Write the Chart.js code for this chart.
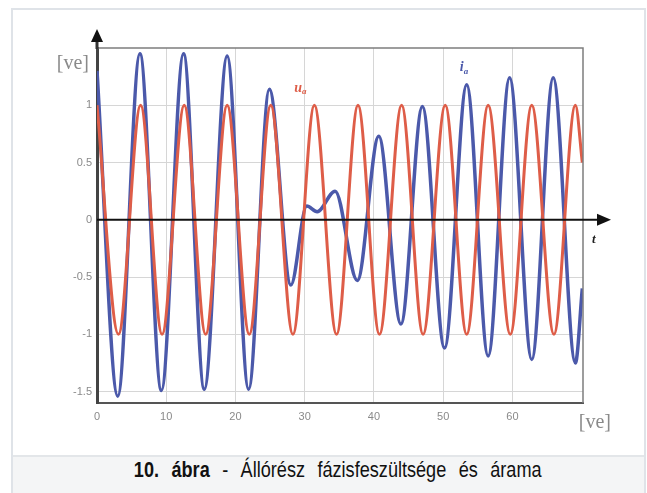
<!DOCTYPE html>
<html>
<head>
<meta charset="utf-8">
<script src="https://cdn.jsdelivr.net/npm/chart.js@4"></script>
<style>
  body { margin: 0; width: 647px; height: 493px; background: #fff; position: relative; overflow: hidden; }
  #frame { position: absolute; left: 11px; top: 8px; width: 635px; height: 490px; border: 2px solid #dfe3e8; box-sizing: border-box; }
  #chart { position: absolute; left: 0; top: 0; }
  #caption { position: absolute; left: 13px; top: 455px; width: 631px; height: 38px; background: #f4f5f6; border-top: 2px solid #e3e6e9; box-sizing: border-box;
             text-align: center; line-height: 36px; font: 22px "Liberation Sans Narrow", "Liberation Sans", sans-serif; color: #111; word-spacing: 9px; white-space: nowrap; }
  #caption span { display: inline-block; transform: scaleX(0.823); margin-left: 18px; }
</style>
</head>
<body>
<div id="frame"></div>
<canvas id="chart" width="647" height="455"></canvas>
<div id="caption"><span id="capText"><b>10. ábra</b> - Állórész fázisfeszültsége és árama</span></div>
<script>
// u_a : phase voltage (red)
const uaT = [0, 3.1, 6.3, 9.4, 12.6, 15.7, 18.8, 22.0, 25.1, 28.3, 31.4, 34.6, 37.7, 40.8, 44.0, 47.1, 50.3, 53.4, 56.5, 59.7, 62.8, 66.0, 69.1, 70.1];
const uaV = [1, -1, 1, -1, 1, -1, 1, -1, 1, -1, 1, -1, 1, -1, 1, -1, 1, -1, 1, -1, 1, -1, 1, 0.5];

// i_a : phase current (blue)
const iaT = [0, 3.0, 6.2, 9.3, 12.5, 15.5, 18.8, 21.9, 24.9, 28.0, 30.3, 31.8, 34.4, 37.6, 40.7, 43.9, 47.0, 50.2, 53.4, 56.5, 59.6, 62.8, 65.9, 69.1, 70.1];
const iaV = [1.3, -1.54, 1.45, -1.49, 1.45, -1.48, 1.43, -1.48, 1.14, -0.57, 0.12, 0.07, 0.25, -0.53, 0.73, -0.91, 0.99, -1.12, 1.18, -1.19, 1.24, -1.22, 1.24, -1.25, -0.6];

const xTicks = [0, 10, 20, 30, 40, 50, 60];
const yTicks = [-1.5, -1, -0.5, 0, 0.5, 1];

const RED = "#de5d48";
const BLUE = "#4b59aa";
const GRID = "#d6d6d6";

const toPts = (ts, vs) => ts.map((t, i) => ({ x: t, y: vs[i] }));

// axis arrows, frame, curve labels
const decor = {
  id: "decor",
  afterDatasetsDraw(chart) {
    const { ctx, chartArea: a, scales: { x, y } } = chart;
    ctx.save();
    // top and right frame
    ctx.strokeStyle = "#7d7d7d";
    ctx.lineWidth = 1.5;
    ctx.beginPath();
    ctx.moveTo(a.left, a.top);
    ctx.lineTo(a.right, a.top);
    ctx.lineTo(a.right, a.bottom);
    ctx.stroke();

    // t axis with arrow
    const y0 = y.getPixelForValue(0);
    ctx.strokeStyle = "#111";
    ctx.lineWidth = 2;
    ctx.beginPath();
    ctx.moveTo(a.left, y0);
    ctx.lineTo(a.right + 16, y0);
    ctx.stroke();
    ctx.fillStyle = "#111";
    ctx.beginPath();
    ctx.moveTo(a.right + 28, y0);
    ctx.lineTo(a.right + 14, y0 - 6);
    ctx.lineTo(a.right + 14, y0 + 6);
    ctx.closePath();
    ctx.fill();

    // y axis arrow
    ctx.strokeStyle = "#333";
    ctx.lineWidth = 3;
    ctx.beginPath();
    ctx.moveTo(a.left, a.top + 1);
    ctx.lineTo(a.left, a.top - 8);
    ctx.stroke();
    ctx.beginPath();
    ctx.moveTo(a.left, a.top - 19);
    ctx.lineTo(a.left - 6, a.top - 6);
    ctx.lineTo(a.left + 6, a.top - 6);
    ctx.closePath();
    ctx.fill();

    // unit labels
    ctx.fillStyle = "#8a8a8a";
    ctx.font = '20px "Liberation Serif", serif';
    ctx.textBaseline = "middle";
    ctx.textAlign = "right";
    ctx.fillText("[ve]", a.left - 8, a.top + 16);
    ctx.fillText("[ve]", a.right + 28, a.bottom + 20);

    // t label
    ctx.fillStyle = "#222";
    ctx.textAlign = "left";
    ctx.font = 'italic bold 13px "Liberation Serif", serif';
    ctx.fillText("t", a.right + 9, y0 + 20);

    // curve names
    const lab = (main, sub, tx, ty, col) => {
      const px = x.getPixelForValue(tx), py = y.getPixelForValue(ty);
      ctx.fillStyle = col;
      ctx.font = 'italic bold 14px "Liberation Serif", serif';
      ctx.fillText(main, px, py);
      const w = ctx.measureText(main).width;
      ctx.font = 'italic bold 9px "Liberation Serif", serif';
      ctx.fillText(sub, px + w, py + 4);
    };
    lab("u", "a", 28.5, 1.15, RED);
    lab("i", "a", 52.4, 1.33, BLUE);
    ctx.restore();
  }
};

new Chart(document.getElementById("chart"), {
  type: "line",
  data: {
    datasets: [
      { label: "u_a", data: toPts(uaT, uaV), borderColor: RED, borderWidth: 3, pointRadius: 0, cubicInterpolationMode: "monotone" },
      { label: "i_a", data: toPts(iaT, iaV), borderColor: BLUE, borderWidth: 3.5, pointRadius: 0, cubicInterpolationMode: "monotone" }
    ]
  },
  options: {
    responsive: false,
    animation: false,
    layout: { padding: { top: 48, right: 64, left: 0, bottom: 0 } },
    plugins: { legend: { display: false }, tooltip: { enabled: false } },
    scales: {
      x: {
        type: "linear",
        min: 0,
        max: 70.2,
        afterBuildTicks: s => { s.ticks = xTicks.map(v => ({ value: v })); },
        afterFit: s => { s.height = 52; },
        grid: { color: GRID, lineWidth: 1, drawTicks: false },
        border: { display: true, color: "#555", width: 2 },
        ticks: { color: "#8a8a8a", font: { size: 11, family: "Liberation Sans" }, padding: 7, callback: v => String(v) }
      },
      y: {
        min: -1.6,
        max: 1.5,
        afterBuildTicks: s => { s.ticks = yTicks.map(v => ({ value: v })); },
        afterFit: s => { s.width = 97; },
        grid: { color: GRID, lineWidth: 1, drawTicks: false },
        border: { display: true, color: "#444", width: 3 },
        ticks: { color: "#8a8a8a", font: { size: 11, family: "Liberation Sans" }, padding: 5, callback: v => String(v) }
      }
    }
  },
  plugins: [decor]
});
</script>
</body>
</html>
